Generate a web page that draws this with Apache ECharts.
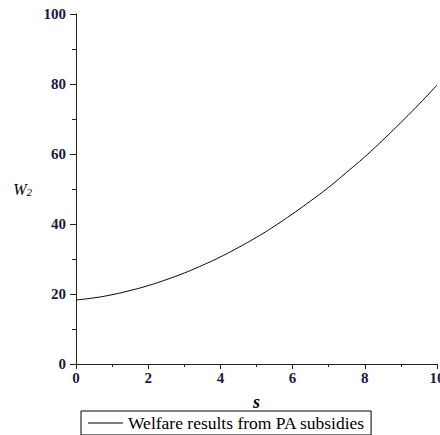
<!DOCTYPE html>
<html>
<head>
<meta charset="utf-8">
<script src="https://cdn.jsdelivr.net/npm/echarts@6/dist/echarts.min.js"></script>
<style>
html,body{margin:0;padding:0;background:#fff;overflow:hidden;}
#chart{width:440px;height:435px;}
</style>
</head>
<body>
<div id="chart"></div>
<script>
var sValues = [0,0.5,1,1.5,2,2.5,3,3.5,4,4.5,5,5.5,6,6.5,7,7.5,8,8.5,9,9.5,10];
var welfareValues = [18.3,18.9,19.8,21.0,22.4,24.1,26.0,28.2,30.6,33.3,36.2,39.4,42.9,46.6,50.5,54.8,59.2,64.0,69.0,74.2,79.7];
var seriesName = 'Welfare results from PA subsidies';

var chart = echarts.init(document.getElementById('chart'), null, {renderer:'svg'});
var font = '"Liberation Serif","DejaVu Serif",serif';
var labelColor = '#1a1a40';
chart.setOption({
  animation:false,
  backgroundColor:'#fff',
  grid:{left:76,right:3,top:14,bottom:71,containLabel:false,outerBoundsMode:'none'},
  legend:{
    data:[seriesName],
    left:81, top:411,
    itemWidth:35, itemHeight:1,
    icon:'rect',
    padding:[3,6,3,7],
    borderColor:'#000', borderWidth:1,
    textStyle:{fontFamily:font,fontSize:17.5,color:'#000'}
  },
  xAxis:{
    type:'value', min:0, max:10, interval:2,
    name:'s', nameLocation:'middle', nameGap:29,
    nameTextStyle:{fontFamily:font,fontSize:18,fontStyle:'italic',fontWeight:'bold',color:'#000'},
    axisLine:{show:true,onZero:false,lineStyle:{color:'#222',width:1}},
    axisTick:{show:true,length:5,lineStyle:{color:'#222'}},
    minorTick:{show:true,splitNumber:2,length:3,lineStyle:{color:'#222'}},
    splitLine:{show:false},
    axisLabel:{fontFamily:font,fontSize:15,fontWeight:'bold',color:labelColor,margin:6}
  },
  yAxis:{
    type:'value', min:0, max:100, interval:20,
    name:'{w|W}{sub|2}', nameLocation:'middle', nameGap:44, nameRotate:0,
    nameTextStyle:{rich:{
      w:{fontFamily:font,fontSize:16,fontStyle:'italic',color:'#000'},
      sub:{fontFamily:font,fontSize:11,fontStyle:'italic',color:'#000',padding:[6,0,0,0]}
    }},
    axisLine:{show:true,onZero:false,lineStyle:{color:'#222',width:1}},
    axisTick:{show:true,length:6,lineStyle:{color:'#222'}},
    minorTick:{show:true,splitNumber:2,length:4,lineStyle:{color:'#222'}},
    splitLine:{show:false},
    axisLabel:{fontFamily:font,fontSize:15,fontWeight:'bold',color:labelColor,margin:10}
  },
  series:[{
    name:seriesName,
    type:'line',
    data:sValues.map(function(s,i){return [s,welfareValues[i]];}),
    smooth:true,
    showSymbol:false,
    lineStyle:{color:'#000',width:1},
    itemStyle:{color:'#000'}
  }]
});
</script>
</body>
</html>
